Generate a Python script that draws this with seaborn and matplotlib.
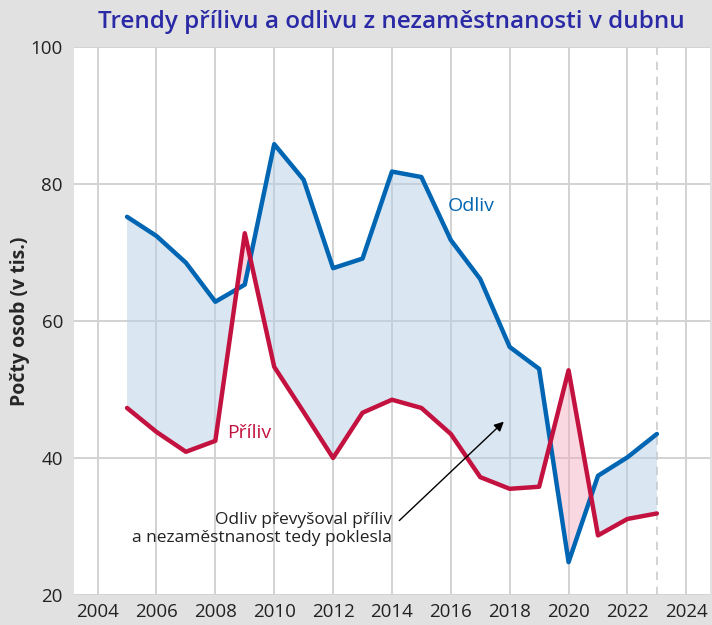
import numpy as np
import pandas as pd
import matplotlib
matplotlib.use('Agg')
import matplotlib.pyplot as plt
import seaborn as sns

# values (thousands of people, April)
years = list(range(2005, 2024))
odliv = [75.2, 72.4, 68.5, 62.8, 65.3, 85.8, 80.6, 67.7, 69.1, 81.8, 81.0,
         71.8, 66.1, 56.2, 53.0, 24.8, 37.4, 40.1, 43.5]
priliv = [47.3, 43.8, 40.9, 42.5, 72.8, 53.3, 46.7, 40.0, 46.6, 48.5, 47.3,
          43.5, 37.2, 35.5, 35.8, 52.8, 28.7, 31.1, 31.9]
x_ticks = list(range(2004, 2025, 2))
y_ticks = [20, 40, 60, 80, 100]

df = pd.DataFrame({'rok': years, 'Odliv': odliv, 'Příliv': priliv})

blue = '#0066b3'
red = '#c3123f'
bg = '#e1e1e1'

sns.set_style('whitegrid')
plt.rcParams['font.family'] = ['Open Sans', 'DejaVu Sans']

fig = plt.figure(figsize=(7.12, 6.25), dpi=100, facecolor=bg)
ax = fig.add_axes([0.104, 0.048, 0.893, 0.877])
ax.set_facecolor('white')

# grid first, fill over it with some transparency
ax.grid(True, color='#d2d2d2', linewidth=1.4)
ax.set_axisbelow(True)

ax.fill_between(df['rok'], df['Odliv'], df['Příliv'], where=df['Odliv'] >= df['Příliv'],
                interpolate=True, color='#b7cfe6', alpha=0.5, linewidth=0, zorder=2.5)
ax.fill_between(df['rok'], df['Odliv'], df['Příliv'], where=df['Odliv'] < df['Příliv'],
                interpolate=True, color='#f2aabd', alpha=0.45, linewidth=0, zorder=2.5)

sns.lineplot(data=df, x='rok', y='Odliv', color=blue, linewidth=3.2, ax=ax, zorder=3)
sns.lineplot(data=df, x='rok', y='Příliv', color=red, linewidth=3.2, ax=ax, zorder=3)

# dashed line at last year
ax.axvline(2023, color='#cccccc', linewidth=1.2, linestyle=(0, (5, 4)), zorder=2)

ax.text(2015.9, 76.8, 'Odliv', color=blue, fontsize=14, ha='left', va='center')
ax.text(2008.4, 43.6, 'Příliv', color=red, fontsize=14, ha='left', va='center')

ax.annotate('Odliv převyšoval příliv\na nezaměstnanost tedy poklesla',
            xy=(2017.8, 45.3), xytext=(2014.0, 29.6),
            ha='right', va='center', fontsize=12.5, color='#222222', linespacing=1.2,
            arrowprops=dict(arrowstyle='-|>', color='black', lw=1, mutation_scale=14,
                            shrinkA=4, shrinkB=0, relpos=(1, 0.55)), zorder=5)

ax.set_xlim(2003.2, 2024.8)
ax.set_ylim(20, 100)
ax.set_xticks(x_ticks)
ax.set_yticks(y_ticks)
ax.tick_params(axis='both', length=0, labelsize=13.5, colors='#222222')
ax.tick_params(axis='x', pad=6)
ax.tick_params(axis='y', pad=8)
ax.set_xlabel('')
ax.set_ylabel('Počty osob (v tis.)', fontsize=14, fontweight='bold')
ax.yaxis.set_label_coords(-0.07, 0.5)
for s in ax.spines.values():
    s.set_visible(False)

fig.text(0.55, 0.965, 'Trendy přílivu a odlivu z nezaměstnanosti v dubnu',
         ha='center', va='center', fontsize=17.5, fontweight='semibold', color='#2a2aa6')

fig.savefig('out.png', dpi=100, facecolor=bg)
